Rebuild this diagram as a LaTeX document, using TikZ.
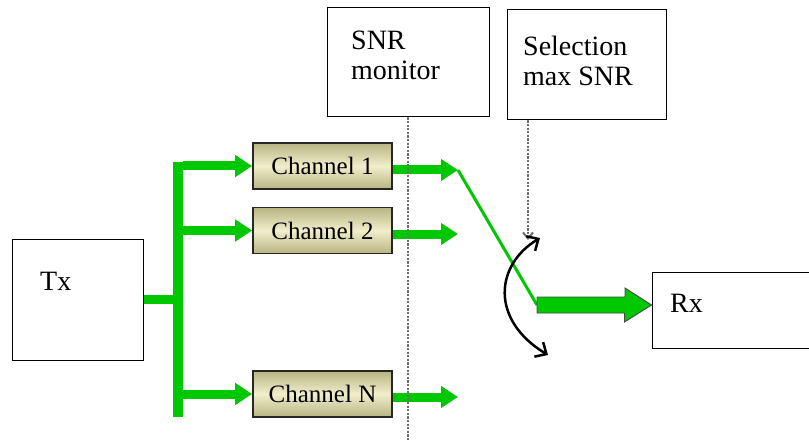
\documentclass[tikz,border=0pt]{standalone}
\usepackage{fontspec}
\setmainfont{Liberation Serif}
\usetikzlibrary{arrows.meta,calc}
\definecolor{sgreen}{RGB}{0,200,0}
\definecolor{chlight}{RGB}{240,238,204}
\definecolor{chdark}{RGB}{184,180,130}
\definecolor{tipgray}{RGB}{70,70,70}
\definecolor{probegray}{RGB}{110,110,110}

\tikzset{
  plainbox/.style={draw=black, line width=1pt, fill=white, inner sep=0pt},
  chanbox/.style={draw=black!85, line width=1.6pt, inner sep=0pt,
    minimum width=139pt, minimum height=46pt,
    top color=chdark, bottom color=chdark, middle color=chlight,
    font=\fontsize{25}{28}\selectfont},
  lbl/.style={inner sep=0pt, align=left, font=\fontsize{28}{30}\selectfont},
  feed/.style={sgreen, line width=9pt,
    -{Triangle[length=17pt,width=21pt]}},
  probe/.style={probegray, line width=2pt, dash pattern=on 2.2pt off 1.4pt},
  swing/.style={black, line width=2.5pt,
    {Straight Barb[length=9pt,width=17pt]}-{Straight Barb[length=9pt,width=17pt]}}
}

\begin{document}
\begin{tikzpicture}[x=1pt,y=-1pt]
\useasboundingbox (0,0) rectangle (809,441);

% boxes
\node[plainbox, minimum width=131pt, minimum height=121pt] (tx) at (77.5,299.5) {};
\node[plainbox, minimum width=160pt, minimum height=76pt] (rx) at (732,310) {};
\node[plainbox, minimum width=162pt, minimum height=109pt] (snr) at (408,62.5) {};
\node[plainbox, minimum width=159pt, minimum height=110pt] (sel) at (586.5,65) {};

\node[lbl, anchor=base west] (txt) at (40,290) {Tx};
\node[lbl, anchor=base west] (rxt) at (670,312) {Rx};
\node[lbl, anchor=north west] (snrt) at (351,31) {SNR\\monitor};
\node[lbl, anchor=north west] (selt) at (523,36) {Selection\\max SNR};

% channels
\node[chanbox] (ch1) at (322.5,166) {Channel 1};
\node[chanbox] (ch2) at (322.5,230.5) {Channel 2};
\node[chanbox] (chn) at (322.5,394) {Channel N};

% splitter trunk
\coordinate (trtop) at (178,162);
\coordinate (trbot) at (178,417);
\draw[sgreen, line width=10pt] (trtop) -- (trbot);
\draw[sgreen, line width=9pt] (tx.east |- 0,299) -- (173,299);
\foreach \c in {ch1,ch2,chn}
  \draw[feed] (183,0 |- \c.west) -- (\c.west);

% channel outputs
\coordinate (o1) at (458,170);
\coordinate (o2) at (458,234);
\coordinate (on) at (458,397);
\draw[feed] ([yshift=-4pt]ch1.east) -- (o1);
\draw[feed] ([yshift=-3.5pt]ch2.east) -- (o2);
\draw[feed] ([yshift=-3pt]chn.east) -- (on);

% selected path to Rx
\coordinate (j) at (537,305);
\draw[sgreen, line width=3pt] (o1) -- (j);
\filldraw[fill=sgreen, draw=tipgray, line width=0.9pt]
  ($(j)+(0,-8)$) -- ++(88,0) -- ++(0,-9) -- (rx.west |- j)
  -- ++(-27,17) -- ++(0,-9) -- ($(j)+(0,8)$) -- cycle;

% monitor and selector lines
\draw[probe] (snr.south) -- (snr.south |- 0,441);
\coordinate (sw) at (528,240);
\draw[probe, -{Straight Barb[length=6pt,width=10pt]}] ([xshift=21.5pt]sel.south west) -- (sw);

% switch swing
\coordinate (sb) at (548,355);
\coordinate (st) at (540,238);
\draw[swing] (sb) .. controls (490,320) and (495,265) .. (st);
\end{tikzpicture}
\end{document}
